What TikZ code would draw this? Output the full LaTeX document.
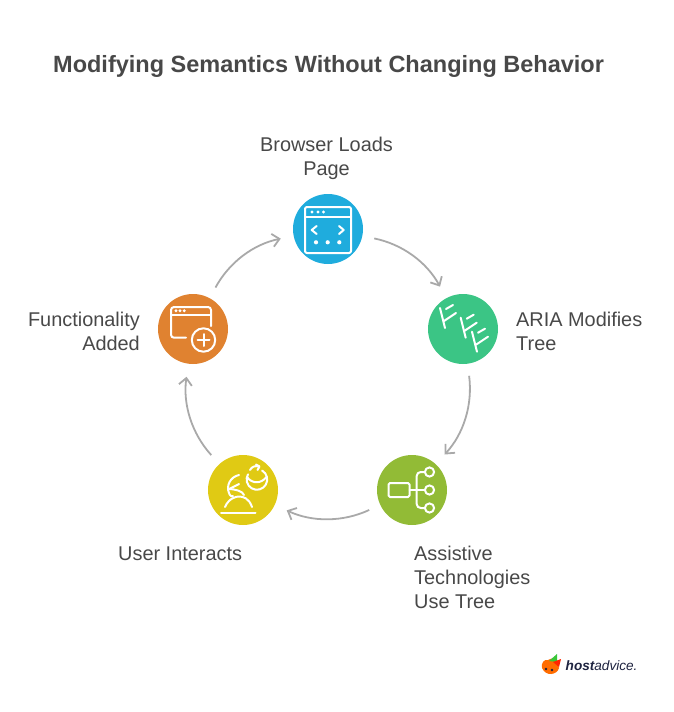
\documentclass[tikz,border=0pt]{standalone}
\usepackage{fontspec}
\setmainfont{Liberation Sans}
\usetikzlibrary{arrows.meta}
\definecolor{textgray}{HTML}{484848}
\definecolor{arrowgray}{HTML}{A9A9A9}
\definecolor{pageblue}{HTML}{1FACDD}
\definecolor{treegreen}{HTML}{3BC585}
\definecolor{techolive}{HTML}{92BB36}
\definecolor{useryellow}{HTML}{E0CA14}
\definecolor{addorange}{HTML}{E08230}
\definecolor{logonavy}{HTML}{1E2340}
\tikzset{
  stagecircle/.style={circle, minimum size=70pt, inner sep=0pt},
  stagelabel/.style={text=textgray, font=\fontsize{19.9}{24}\selectfont, inner sep=0pt},
  ringarrow/.style={->, arrowgray, line width=1.8pt, >={Straight Barb[length=7pt,width=13pt]}, shorten <=12pt, shorten >=13pt},
  iconline/.style={white, line width=2pt, line cap=round, line join=round},
  icondot/.style={white, fill=white, line width=0pt}
}
\begin{document}
\begin{tikzpicture}[x=1pt, y=-1pt]
\useasboundingbox (0,0) rectangle (673,712);

\node[anchor=west, text=textgray, inner sep=0pt, font=\fontsize{23.5}{28}\selectfont\bfseries] (title) at (53,66) {Modifying Semantics Without Changing Behavior};

\node[stagecircle, fill=pageblue] (browser) at (328,229) {};
\node[stagecircle, fill=treegreen] (aria) at (463,329) {};
\node[stagecircle, fill=techolive] (assistive) at (412,490) {};
\node[stagecircle, fill=useryellow] (user) at (243,490) {};
\node[stagecircle, fill=addorange] (added) at (193,329) {};

\node[stagelabel, align=center, anchor=center] (browserlabel) at (326.5,158) {Browser Loads\\Page};
\node[stagelabel, align=left, anchor=west] (arialabel) at (516,331) {ARIA Modifies\\Tree};
\node[stagelabel, align=left, anchor=west] (assistivelabel) at (414,577) {Assistive\\Technologies\\Use Tree};
\node[stagelabel, anchor=west] (userlabel) at (118,553.5) {User Interacts};
\node[stagelabel, align=right, anchor=east] (addedlabel) at (140,331) {Functionality\\Added};

\draw[ringarrow] (browser) to[bend left=25] (aria);
\draw[ringarrow] (aria) to[bend left=25] (assistive);
\draw[ringarrow] (assistive) to[bend left=25] (user);
\draw[ringarrow] (user) to[bend left=25] (added);
\draw[ringarrow] (added) to[bend left=25] (browser);

\draw[iconline, rounded corners=2pt] (305,207) rectangle (351,253);
\draw[iconline] (305,217)--(351,217);
\foreach \x in {312,318,323.5} \fill[icondot] (\x,212) circle (1.7);
\draw[iconline] (316.7,226)--(311.7,230)--(316.7,234);
\draw[iconline] (339,226)--(343.7,230)--(339,234);
\foreach \x in {316,327.7,339.3} \fill[icondot] (\x,242.3) circle (2.1);

\foreach \x/\y in {0/0, 20.7/9.7, 32/23.7} {
  \draw[iconline] (440+\x,308+\y)--(445+\x,328+\y);
  \draw[iconline] (444+\x,321+\y)--(456+\x,313+\y);
  \draw[iconline] (446+\x,309+\y)--(453+\x,305+\y);
}

\draw[iconline, rounded corners=1.5pt] (388.5,483)rectangle(409.5,497);
\draw[iconline] (409.5,490)--(424.8,490);
\draw[iconline, rounded corners=4pt] (424.8,472)--(416.7,472)--(416.7,508)--(424.8,508);
\foreach \y in {472,490,508} \draw[iconline] (429.5,\y) circle (4.6);

\draw[iconline] (248,474.3) arc (210:-60:10.3);
\draw[iconline] (247,477) .. controls (252,484) and (261,484) .. (266.5,477);
\draw[iconline] (250,470) .. controls (252,466.5) and (255,465.5) .. (259,466.5);
\draw[iconline] (256,464.5)--(259.5,466.5)--(257.5,470);
\draw[iconline] (239,475) .. controls (230,477) and (226,486) .. (229,493) .. controls (230,496) and (232,497) .. (233,496);
\draw[iconline] (229,489)--(239,484);
\draw[iconline] (229,489) .. controls (234,489) and (243,491) .. (244,495);
\draw[iconline] (225,507) .. controls (229,498) and (236,496.5) .. (239,496.5) .. controls (243,496.5) and (249,498) .. (252,507);
\draw[iconline] (221,512.7)--(255.5,512.7);

\draw[iconline, rounded corners=3pt] (186,337.7)--(171,337.7)--(171,307)--(211,307)--(211,326);
\draw[iconline] (171,315)--(211,315);
\foreach \x in {176,180,184.3} \fill[icondot] (\x,310.7) circle (1.6);
\draw[iconline] (203.5,340) circle (11.7);
\draw[iconline] (203.5,334)--(203.5,346);
\draw[iconline] (197.5,340)--(209.5,340);

\fill[orange!85!red] (542,668) .. controls (541,663) and (544,659) .. (548,660) .. controls (550,658) and (553,658) .. (556,660) -- (559,668) .. controls (557,675) and (546,677) .. (542,668) -- cycle;
\fill[green!55!gray] (549,661)--(557,654)--(557,662)--cycle;
\fill[red!70!orange] (553,662)--(561,659)--(559,667)--cycle;
\fill[logonavy] (546,669) circle (1.3);
\fill[logonavy] (552,670) circle (1.3);
\node[anchor=west, text=logonavy, inner sep=0pt, font=\fontsize{13.6}{16}\selectfont\itshape] (logo) at (565.5,665.5) {\textbf{host}advice.};
\end{tikzpicture}
\end{document}
